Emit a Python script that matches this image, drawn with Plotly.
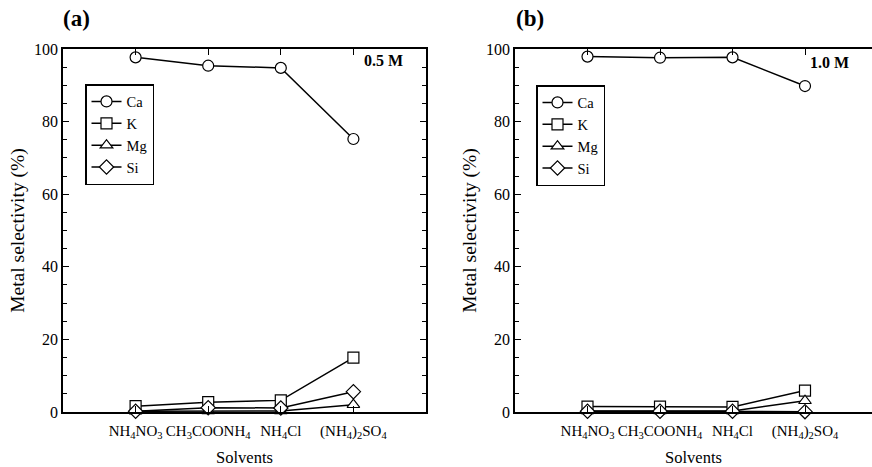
import plotly.graph_objects as go

solvents = ["NH<sub>4</sub>NO<sub>3</sub>", "CH<sub>3</sub>COONH<sub>4</sub>",
            "NH<sub>4</sub>Cl", "(NH<sub>4</sub>)<sub>2</sub>SO<sub>4</sub>"]
positions = [1, 2, 3, 4]

# Panel (a) 0.5 M
ca_a = [97.7, 95.4, 94.8, 75.2]
k_a = [1.6, 2.7, 3.2, 15.0]
mg_a = [0.2, 0.3, 0.3, 2.0]
si_a = [0.2, 1.2, 1.1, 5.6]

# Panel (b) 1.0 M
ca_b = [97.9, 97.6, 97.7, 89.8]
k_b = [1.5, 1.5, 1.4, 5.9]
mg_b = [0.3, 0.3, 0.3, 3.1]
si_b = [0.2, 0.2, 0.2, 0.1]

elements = ["Ca", "K", "Mg", "Si"]
symbols = ["circle", "square", "triangle-up", "diamond"]

SERIF = "Liberation Serif, Times New Roman, serif"
fig = go.Figure()

def add_panel(series, xa, ya, legend):
    for name, vals, sym in zip(elements, series, symbols):
        fig.add_trace(go.Scatter(
            x=positions, y=vals, mode="lines+markers", name=name,
            xaxis=xa, yaxis=ya, legend=legend,
            line=dict(color="black", width=1.5),
            marker=dict(symbol=sym, size=11, color="white",
                        line=dict(color="black", width=1.2)),
            cliponaxis=False,
        ))

add_panel([ca_a, k_a, mg_a, si_a], "x", "y", "legend")
add_panel([ca_b, k_b, mg_b, si_b], "x2", "y2", "legend2")

W, H = 872, 467
ytop, ybot = 1 - 49 / H, 1 - 412 / H

xcommon = dict(
    tickmode="array", tickvals=positions, ticktext=solvents,
    showline=True, linecolor="black", linewidth=1.5,
    ticks="inside", ticklen=6, tickcolor="black", tickwidth=1.2,
    ticklabelstandoff=4, tickangle=0, automargin=False,
    showgrid=False, zeroline=False,
    tickfont=dict(family=SERIF, size=15, color="black"),
    title=dict(text="Solvents", font=dict(family=SERIF, size=16.5, color="black"), standoff=18),
)
ycommon = dict(
    range=[0, 100], tickvals=[0, 20, 40, 60, 80, 100],
    showline=True, linecolor="black", linewidth=1.5,
    ticks="inside", ticklen=6, tickcolor="black", tickwidth=1.2,
    minor=dict(ticks="inside", ticklen=4, dtick=5, tickcolor="black", tickwidth=1.2, showgrid=False),
    showgrid=False, zeroline=False, automargin=False,
    tickfont=dict(family=SERIF, size=16, color="black"),
    title=dict(text="Metal selectivity (%)", font=dict(family=SERIF, size=19.5, color="black"), standoff=4),
)

legend_style = dict(xanchor="left", yanchor="top",
                    bordercolor="black", borderwidth=1.5, bgcolor="white",
                    font=dict(family=SERIF, size=14.5, color="black"),
                    tracegroupgap=0, itemwidth=30)

fig.update_layout(
    width=W, height=H,
    margin=dict(l=0, r=0, t=0, b=0),
    paper_bgcolor="white", plot_bgcolor="white",
    xaxis=dict(domain=[63 / W, 426 / W], range=[0, 5], mirror="ticks", anchor="y", **xcommon),
    yaxis=dict(domain=[ybot, ytop], mirror="ticks", anchor="x", **ycommon),
    xaxis2=dict(domain=[515 / W, 1.0], range=[0, 357 / 72.5], mirror="ticks", anchor="y2", **xcommon),
    yaxis2=dict(domain=[ybot, ytop], mirror=False, anchor="x2", **ycommon),
    legend=dict(x=85 / W, y=1 - 84 / H, **legend_style),
    legend2=dict(x=536 / W, y=1 - 85 / H, **legend_style),
    annotations=[
        dict(text="<b>(a)</b>", x=61 / W, y=1 - 19 / H, xref="paper", yref="paper",
             xanchor="left", yanchor="middle", showarrow=False,
             font=dict(family=SERIF, size=23, color="black")),
        dict(text="<b>(b)</b>", x=514 / W, y=1 - 19 / H, xref="paper", yref="paper",
             xanchor="left", yanchor="middle", showarrow=False,
             font=dict(family=SERIF, size=23, color="black")),
        dict(text="<b>0.5 M</b>", x=405 / W, y=1 - 61 / H, xref="paper", yref="paper",
             xanchor="right", yanchor="middle", showarrow=False,
             font=dict(family=SERIF, size=16, color="black")),
        dict(text="<b>1.0 M</b>", x=851 / W, y=1 - 62 / H, xref="paper", yref="paper",
             xanchor="right", yanchor="middle", showarrow=False,
             font=dict(family=SERIF, size=16, color="black")),
    ],
)

fig.write_html("out.html", config={"displayModeBar": False},
               post_script="document.body.style.margin='0';document.body.style.overflow='hidden';")
